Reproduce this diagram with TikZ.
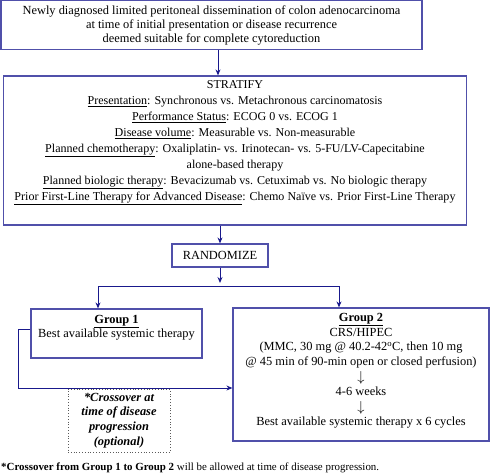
\documentclass[tikz,border=0pt]{standalone}
\usepackage{fontspec}
\setmainfont{Liberation Serif}
\usetikzlibrary{arrows.meta}
\definecolor{boxc}{RGB}{80,80,170}
\definecolor{arrc}{RGB}{25,25,140}
\definecolor{dotc}{RGB}{90,90,90}
\tikzset{
  box/.style={draw=boxc, line width=1.2pt, inner sep=0pt, rectangle},
  txt/.style={inner sep=0pt, align=center},
  arr/.style={draw=arrc, line width=1pt, -{Stealth[length=6pt,width=5pt]}},
  ln/.style={draw=arrc, line width=1pt},
  dotbox/.style={draw=dotc, dotted, line width=0.8pt, inner sep=0pt, rectangle},
}
\newcommand{\fs}[1]{\fontsize{12.4}{#1}\selectfont}
\newcommand{\fss}[2]{\fontsize{#1}{#2}\selectfont}
\newcommand{\darr}{\raisebox{-0.5pt}[7pt][2pt]{\fontsize{14.5}{14.9}\selectfont$\downarrow$}}
\begin{document}
\begin{tikzpicture}[x=1pt,y=-1pt]
\useasboundingbox (0,0) rectangle (490,474);
% top box
\node[box, minimum width=421pt, minimum height=49pt, align=center, font=\fs{13.8}] (top) at (211.5,25.2)
  {Newly diagnosed limited peritoneal dissemination of colon adenocarcinoma\\
   at time of initial presentation or disease recurrence\\
   deemed suitable for complete cytoreduction};
% stratify box
\node[box, minimum width=463pt, minimum height=149pt] (strat) at (235,150.5) {};
\node[txt, font={\fss{12.05}{16}}] (stratT) at (235,142.5)
  {STRATIFY\\
   \underline{Presentation}: Synchronous vs. Metachronous carcinomatosis\\
   \underline{Performance Status}: ECOG 0 vs. ECOG 1\\
   \underline{Disease volume}: Measurable vs. Non-measurable\\
   \underline{Planned chemotherapy}: Oxaliplatin- vs. Irinotecan- vs. 5-FU/LV-Capecitabine\\
   alone-based therapy\\
   \underline{Planned biologic therapy}: Bevacizumab vs. Cetuximab vs. No biologic therapy\\
   \underline{Prior First-Line Therapy for Advanced Disease}: Chemo Naïve vs. Prior First-Line Therapy};
% randomize
\node[box, minimum width=96pt, minimum height=23pt, font=\fs{14}] (rand) at (220,255.5) {RANDOMIZE};
% group 1
\node[box, minimum width=171pt, minimum height=49pt] (g1) at (116.5,333.5) {};
\node[txt, font=\fs{14}] (g1T) at (116.5,327.5)
  {\textbf{\underline{Group 1}}\\ Best available systemic therapy};
% group 2
\node[box, minimum width=256pt, minimum height=133pt] (g2) at (361,374.5) {};
\node[txt, font=\fs{14.9}] (g2T) at (361,370.5)
  {\textbf{\underline{Group 2}}\\
   CRS/HIPEC\\
   (MMC, 30 mg @ 40.2-42\textsuperscript{o}C, then 10 mg\\
   @ 45 min of 90-min open or closed perfusion)\\
   \darr\\
   4-6 weeks\\
   \darr\\
   Best available systemic therapy x 6 cycles};
% crossover box
\node[dotbox, minimum width=102pt, minimum height=63pt] (cross) at (119,420.5) {};
\node[txt, font=\fs{14.7}\bfseries\itshape] (crossT) at (119,420.5)
  {*Crossover at\\ time of disease\\ progression\\ (optional)};
% footnote
\node[txt, anchor=west, font={\fss{10.9}{13}}] (foot) at (1,468)
  {\textbf{*Crossover from Group 1 to Group 2} will be allowed at time of disease progression.};
% connectors
\coordinate (xa) at (218,0);
\coordinate (xb) at (220,0);
\coordinate (split) at (220,283);
\coordinate (hl) at (98,286);
\coordinate (hr) at (339,286);
\coordinate (c1) at (18,329);
\coordinate (c2) at (18,388);
\draw[arr] (top.south -| xa) -- (strat.north -| xa);
\draw[arr] (strat.south -| xb) -- (rand.north);
\draw[arr] (rand.south) -- (split);
\draw[ln] (hl) -- (hr);
\draw[arr] (hl) -- (hl |- g1.north);
\draw[arr] (hr) -- (hr |- g2.north);
\draw[arr] (c1 -| g1.west) -- (c1) -- (c2) -- (c2 -| g2.west);
\end{tikzpicture}
\end{document}
